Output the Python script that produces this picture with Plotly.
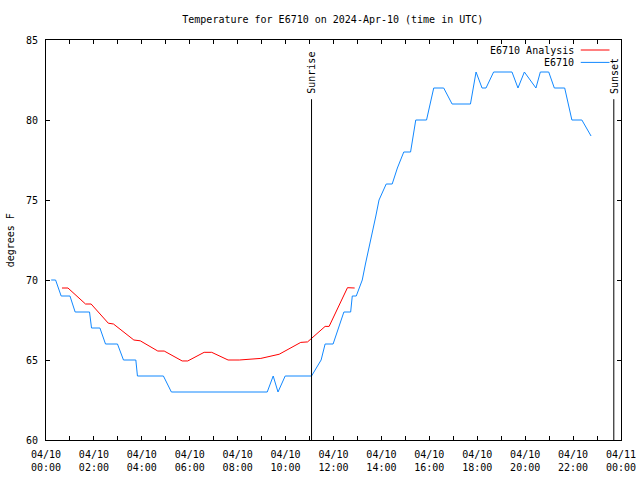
import plotly.graph_objects as go

DAY = "2024-04-10"
NEXT_DAY = "2024-04-11"

# E6710 observed temperature (deg F), UTC time
obs_times = ["00:13", "00:24", "00:38", "01:00", "01:13", "01:49", "01:54", "02:15",
             "02:29", "02:59", "03:14", "03:45", "03:49", "04:54", "05:14", "09:14",
             "09:29", "09:41", "09:59", "11:05", "11:29", "11:39", "11:59", "12:26",
             "12:43", "12:47", "12:57", "13:12", "13:20", "13:29", "13:37", "13:46",
             "13:54", "14:12", "14:27", "14:40", "14:56", "15:13", "15:26", "15:53",
             "16:11", "16:36", "16:57", "17:43", "17:57", "18:12", "18:22", "18:41",
             "19:27", "19:42", "19:58", "20:27", "20:38", "20:59", "21:13", "21:39",
             "21:57", "22:22", "22:45"]
obs_temps = [70, 70, 69, 69, 68, 68, 67, 67,
             66, 66, 65, 65, 64, 64, 63, 63,
             64, 63, 64, 64, 65, 66, 66, 68,
             68, 69, 69, 70, 71, 72, 73, 74,
             75, 76, 76, 77, 78, 78, 80, 80,
             82, 82, 81, 81, 83, 82, 82, 83,
             83, 82, 83, 82, 83, 83, 82, 82,
             80, 80, 79]

# E6710 analysis temperature (deg F)
ana_times = ["00:40", "00:55", "01:39", "01:53", "02:36", "02:49", "03:40", "03:56",
             "04:40", "04:56", "05:41", "05:55", "06:36", "06:55", "07:36", "08:04",
             "08:58", "09:44", "10:38", "10:55", "11:39", "11:49", "12:35", "12:53"]
ana_temps = [69.5, 69.5, 68.5, 68.5, 67.3, 67.25, 66.25, 66.2,
             65.56, 65.56, 64.94, 64.94, 65.48, 65.48, 65.0, 65.0,
             65.1, 65.36, 66.1, 66.13, 67.1, 67.1, 69.52, 69.5]

sunrise = "11:05"
sunset = "23:42"
marker_top = 81.3

y_ticks = [60, 65, 70, 75, 80, 85]
tick_hours = list(range(0, 25))

FONT = "DejaVu Sans Mono"
RED = "#ff0000"
BLUE = "#1188ff"

def ts(t, day=DAY):
    return f"{day} {t}"

tickvals, ticktext = [], []
for h in tick_hours:
    day = DAY if h < 24 else NEXT_DAY
    hh = h % 24
    tickvals.append(f"{day} {hh:02d}:00")
    if h % 2 == 0:
        ticktext.append(f"{day[5:7]}/{day[8:10]}<br>{hh:02d}:00")
    else:
        ticktext.append("")

fig = go.Figure()

fig.add_trace(go.Scatter(x=[ts(t) for t in ana_times], y=ana_temps, mode="lines",
                         line=dict(color=RED, width=1), name="E6710 Analysis",
                         showlegend=False))
fig.add_trace(go.Scatter(x=[ts(t) for t in obs_times], y=obs_temps, mode="lines",
                         line=dict(color=BLUE, width=1), name="E6710",
                         showlegend=False))

for t, label in [(sunrise, "Sunrise"), (sunset, "Sunset")]:
    fig.add_trace(go.Scatter(x=[ts(t), ts(t)], y=[60, marker_top], mode="lines",
                             line=dict(color="black", width=1), showlegend=False,
                             hoverinfo="skip"))
    fig.add_annotation(x=ts(t), y=marker_top, xref="x", yref="y", text=label,
                       textangle=-90, showarrow=False, xanchor="center",
                       yanchor="bottom", yshift=3,
                       font=dict(family=FONT, size=10, color="black"))

# custom legend (text then sample line, gnuplot style)
legend_items = [("E6710 Analysis", RED, 0.975), ("E6710", BLUE, 0.944)]
for name, col, yp in legend_items:
    fig.add_annotation(x=0.921, y=yp, xref="paper", yref="paper", text=name,
                       showarrow=False, xanchor="right", yanchor="middle",
                       font=dict(family=FONT, size=10, color="black"))
    fig.add_shape(type="line", xref="paper", yref="paper", x0=0.93, x1=0.98,
                  y0=yp, y1=yp, line=dict(color=col, width=1))

fig.add_annotation(x=-0.062, y=0.5, xref="paper", yref="paper", text="degrees F",
                   textangle=-90, showarrow=False, xanchor="center", yanchor="middle",
                   font=dict(family=FONT, size=10, color="black"))

fig.update_layout(
    width=640, height=480,
    margin=dict(l=46, r=19, t=40, b=40, autoexpand=False),
    paper_bgcolor="white", plot_bgcolor="white",
    title=dict(text="Temperature for E6710 on 2024-Apr-10 (time in UTC)",
               x=0.52, xanchor="center", y=0.96, yanchor="middle",
               font=dict(family=FONT, size=10, color="black")),
    font=dict(family=FONT, size=10, color="black"),
    showlegend=False,
)
fig.update_xaxes(type="date", range=[ts("00:00"), ts("00:00", NEXT_DAY)],
                 tickvals=tickvals, ticktext=ticktext, ticks="inside", ticklen=4,
                 tickcolor="black", showline=True, linecolor="black", linewidth=1,
                 mirror="ticks", showgrid=False, zeroline=False, automargin=False,
                 ticklabelstandoff=5,
                 tickfont=dict(family=FONT, size=10, color="black"))
fig.update_yaxes(range=[60, 85], tickvals=y_ticks, ticks="inside", ticklen=4,
                 tickcolor="black", showline=True, linecolor="black", linewidth=1,
                 mirror="ticks", showgrid=False, zeroline=False, automargin=False,
                 ticklabelstandoff=5,
                 tickfont=dict(family=FONT, size=10, color="black"))

fig.write_html("out.html")
